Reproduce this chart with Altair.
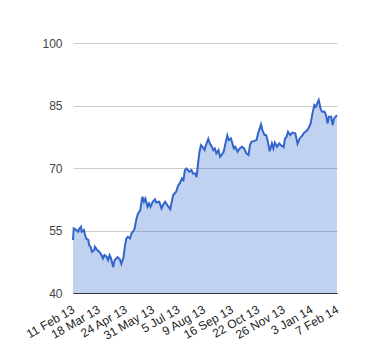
import altair as alt
import pandas as pd

dates = [
    "2013-02-11", "2013-02-12", "2013-02-16", "2013-02-18", "2013-02-20", "2013-02-22", "2013-02-23",
    "2013-02-26", "2013-02-27", "2013-03-01", "2013-03-04", "2013-03-05", "2013-03-07", "2013-03-09",
    "2013-03-12", "2013-03-13", "2013-03-16", "2013-03-19", "2013-03-22", "2013-03-24", "2013-03-26",
    "2013-03-29", "2013-03-31", "2013-04-02", "2013-04-04", "2013-04-07", "2013-04-09", "2013-04-13",
    "2013-04-16", "2013-04-18", "2013-04-21", "2013-04-23", "2013-04-25", "2013-04-27", "2013-04-30",
    "2013-05-02", "2013-05-04", "2013-05-06", "2013-05-09", "2013-05-11", "2013-05-14", "2013-05-16",
    "2013-05-17", "2013-05-19", "2013-05-21", "2013-05-24", "2013-05-26", "2013-05-28", "2013-05-31",
    "2013-06-03", "2013-06-05", "2013-06-09", "2013-06-12", "2013-06-14", "2013-06-17", "2013-06-20",
    "2013-06-24", "2013-06-26", "2013-06-28", "2013-07-02", "2013-07-05", "2013-07-07", "2013-07-10",
    "2013-07-12", "2013-07-14", "2013-07-16", "2013-07-20", "2013-07-23", "2013-07-25", "2013-07-28",
    "2013-07-30", "2013-08-01", "2013-08-03", "2013-08-05", "2013-08-07", "2013-08-10", "2013-08-11",
    "2013-08-15", "2013-08-17", "2013-08-20", "2013-08-22", "2013-08-24", "2013-08-26", "2013-08-29",
    "2013-08-31", "2013-09-02", "2013-09-05", "2013-09-08", "2013-09-10", "2013-09-12", "2013-09-15",
    "2013-09-17", "2013-09-19", "2013-09-21", "2013-09-24", "2013-09-27", "2013-09-30", "2013-10-03",
    "2013-10-06", "2013-10-09", "2013-10-11", "2013-10-13", "2013-10-17", "2013-10-20", "2013-10-22",
    "2013-10-25", "2013-10-26", "2013-10-28", "2013-10-31", "2013-11-02", "2013-11-04", "2013-11-07",
    "2013-11-10", "2013-11-12", "2013-11-14", "2013-11-17", "2013-11-20", "2013-11-22", "2013-11-26",
    "2013-11-28", "2013-11-30", "2013-12-02", "2013-12-05", "2013-12-08", "2013-12-12", "2013-12-14",
    "2013-12-15", "2013-12-18", "2013-12-22", "2013-12-24", "2013-12-28", "2013-12-31", "2014-01-02",
    "2014-01-04", "2014-01-07", "2014-01-09", "2014-01-11", "2014-01-13", "2014-01-16", "2014-01-18",
    "2014-01-21", "2014-01-23", "2014-01-25", "2014-01-27", "2014-01-30", "2014-02-01", "2014-02-03",
    "2014-02-06", "2014-02-07",
]

values = [
    52.7, 55.5, 55.1, 54.7, 55.5, 55.9, 54.7,
    55.1, 54.3, 53.1, 52.7, 51.5, 51.1, 49.9,
    50.3, 51.1, 50.3, 49.9, 49.1, 48.3, 49.1,
    48.7, 47.9, 49.1, 48.3, 46.2, 47.9, 48.6,
    48.1, 47.0, 48.5, 51.3, 53.1, 53.5, 53.1,
    54.3, 54.7, 55.3, 58.0, 59.1, 59.9, 62.3,
    63.1, 61.9, 62.7, 60.7, 61.5, 60.7, 61.9,
    62.5, 61.7, 61.9, 60.3, 61.1, 61.9, 61.1,
    60.1, 61.9, 63.5, 64.3, 65.9, 66.3, 67.5,
    67.1, 69.5, 69.9, 69.1, 69.5, 68.7, 68.7,
    67.8, 71.1, 73.9, 75.5, 75.1, 74.3, 75.1,
    77.0, 75.9, 75.1, 74.3, 74.7, 73.5, 74.3,
    72.7, 73.1, 73.9, 76.3, 77.8, 76.7, 77.1,
    75.9, 74.7, 75.1, 73.9, 74.7, 75.1, 74.7,
    73.5, 73.1, 75.5, 76.3, 76.5, 76.7, 78.3,
    79.9, 80.5, 79.1, 77.9, 77.9, 76.7, 74.0,
    75.9, 74.7, 76.1, 75.1, 75.9, 75.5, 75.0,
    77.1, 77.5, 78.7, 77.9, 78.5, 78.3, 76.7,
    75.8, 77.1, 77.9, 78.5, 79.0, 79.9, 80.7,
    82.7, 85.1, 84.7, 85.5, 86.3, 83.9, 83.5,
    83.5, 82.7, 80.7, 82.3, 82.3, 80.3, 81.9,
    82.5, 82.3,
]

tick_dates = [
    (2013, 2, 11), (2013, 3, 18), (2013, 4, 24), (2013, 5, 31), (2013, 7, 5), (2013, 8, 9),
    (2013, 9, 16), (2013, 10, 22), (2013, 11, 26), (2014, 1, 3), (2014, 2, 7),
]
y_ticks = [40, 55, 70, 85, 100]

df = pd.DataFrame({"date": [d + "T00:00:00" for d in dates], "value": values})

font = "Liberation Sans"

x_enc = alt.X(
    "date:T",
    scale=alt.Scale(domain=[alt.DateTime(year=2013, month=2, date=11),
                            alt.DateTime(year=2014, month=2, date=7)]),
    axis=alt.Axis(
        values=[alt.DateTime(year=y, month=m, date=d) for (y, m, d) in tick_dates],
        format="%-d %b %y",
        labelAngle=-30,
        labelAlign="right",
        labelBaseline="middle",
        labelPadding=15,
        labelOverlap=False,
        labelFlush=False,
        labelFont=font,
        labelFontSize=12,
        labelColor="#222222",
        ticks=False,
        grid=False,
        domainColor="#333333",
        domainWidth=1,
        title=None,
    ),
)

y_enc = alt.Y(
    "value:Q",
    scale=alt.Scale(domain=[40, 100], zero=False, nice=False),
    axis=alt.Axis(
        values=y_ticks,
        grid=True,
        gridColor="#cccccc",
        domain=False,
        ticks=False,
        labelPadding=11,
        labelFont=font,
        labelFontSize=12,
        labelColor="#444444",
        title=None,
    ),
)

area = alt.Chart(df).mark_area(color="#3366cc", opacity=0.3).encode(
    x=x_enc, y=y_enc, y2=alt.datum(40)
)
line = alt.Chart(df).mark_line(color="#3366cc", strokeWidth=2).encode(
    x=x_enc, y=y_enc
)

chart = (
    alt.layer(area, line)
    .properties(
        width=264,
        height=250,
        autosize=alt.AutoSizeParams(type="none"),
        padding={"left": 65, "top": 35, "right": 30, "bottom": 50},
    )
    .configure_view(stroke=None)
    .configure_axisX(labelOverlap=False, labelFlush=False)
)

chart.save("out.html", embed_options={"renderer": "svg", "actions": False})
